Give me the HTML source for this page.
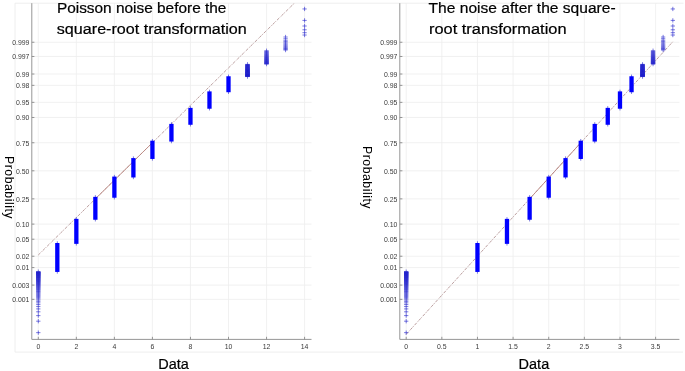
<!DOCTYPE html>
<html><head><meta charset="utf-8"><style>
html,body{margin:0;padding:0;background:#fff;width:685px;height:371px;overflow:hidden}
svg{display:block}
.ga{will-change:transform}
.ov{position:absolute;left:0;top:0}
</style></head><body>
<svg class="ga" width="685" height="371" viewBox="0 0 685 371" font-family="Liberation Sans, sans-serif">
<defs><clipPath id="cl"><rect x="31.8" y="3.2" width="279.7" height="336.2"/></clipPath>
<clipPath id="cr"><rect x="399.8" y="3.2" width="279.6" height="336.2"/></clipPath>
<filter id="bl" x="0" y="0" width="1" height="1"><feGaussianBlur stdDeviation="0.35"/></filter></defs>
<g filter="url(#bl)">
<rect x="0" y="0" width="685" height="371" fill="#fff"/>
<path d="M15 3.2H683.5M15 3.2V352.1H683" stroke="#ececec" stroke-width="0.9" fill="none"/>
<path d="M31.8 42.25H311.5M31.8 56.49H311.5M31.8 74.02H311.5M31.8 85.36H311.5M31.8 102.37H311.5M31.8 117.49H311.5M31.8 142.74H311.5M31.8 170.80H311.5M31.8 198.86H311.5M31.8 224.11H311.5M31.8 239.23H311.5M31.8 256.24H311.5M31.8 267.58H311.5M31.8 285.11H311.5M31.8 299.35H311.5M38.30 3.2V339.4M76.34 3.2V339.4M114.38 3.2V339.4M152.42 3.2V339.4M190.46 3.2V339.4M228.50 3.2V339.4M266.54 3.2V339.4M304.58 3.2V339.4" stroke="#eeeeee" stroke-width="0.8" fill="none"/><path d="M31.8 3.2V339.4H311.5M31.8 42.25h2.6M31.8 56.49h2.6M31.8 74.02h2.6M31.8 85.36h2.6M31.8 102.37h2.6M31.8 117.49h2.6M31.8 142.74h2.6M31.8 170.80h2.6M31.8 198.86h2.6M31.8 224.11h2.6M31.8 239.23h2.6M31.8 256.24h2.6M31.8 267.58h2.6M31.8 285.11h2.6M31.8 299.35h2.6M38.30 339.4v-2.6M76.34 339.4v-2.6M114.38 339.4v-2.6M152.42 339.4v-2.6M190.46 339.4v-2.6M228.50 339.4v-2.6M266.54 339.4v-2.6M304.58 339.4v-2.6" stroke="#8a8a8a" stroke-width="0.9" fill="none"/><g font-size="6.9" fill="#3a3a3a"><text x="29.4" y="45.05" text-anchor="end">0.999</text><text x="29.4" y="59.29" text-anchor="end">0.997</text><text x="29.4" y="76.82" text-anchor="end">0.99</text><text x="29.4" y="88.16" text-anchor="end">0.98</text><text x="29.4" y="105.17" text-anchor="end">0.95</text><text x="29.4" y="120.29" text-anchor="end">0.90</text><text x="29.4" y="145.54" text-anchor="end">0.75</text><text x="29.4" y="173.60" text-anchor="end">0.50</text><text x="29.4" y="201.66" text-anchor="end">0.25</text><text x="29.4" y="226.91" text-anchor="end">0.10</text><text x="29.4" y="242.03" text-anchor="end">0.05</text><text x="29.4" y="259.04" text-anchor="end">0.02</text><text x="29.4" y="270.38" text-anchor="end">0.01</text><text x="29.4" y="287.91" text-anchor="end">0.003</text><text x="29.4" y="302.15" text-anchor="end">0.001</text><text x="38.30" y="349.3" text-anchor="middle">0</text><text x="76.34" y="349.3" text-anchor="middle">2</text><text x="114.38" y="349.3" text-anchor="middle">4</text><text x="152.42" y="349.3" text-anchor="middle">6</text><text x="190.46" y="349.3" text-anchor="middle">8</text><text x="228.50" y="349.3" text-anchor="middle">10</text><text x="266.54" y="349.3" text-anchor="middle">12</text><text x="304.58" y="349.3" text-anchor="middle">14</text></g>
<path d="M399.8 42.25H679.4M399.8 56.49H679.4M399.8 74.02H679.4M399.8 85.36H679.4M399.8 102.37H679.4M399.8 117.49H679.4M399.8 142.74H679.4M399.8 170.80H679.4M399.8 198.86H679.4M399.8 224.11H679.4M399.8 239.23H679.4M399.8 256.24H679.4M399.8 267.58H679.4M399.8 285.11H679.4M399.8 299.35H679.4M406.20 3.2V339.4M441.83 3.2V339.4M477.46 3.2V339.4M513.09 3.2V339.4M548.72 3.2V339.4M584.35 3.2V339.4M619.98 3.2V339.4M655.61 3.2V339.4" stroke="#eeeeee" stroke-width="0.8" fill="none"/><path d="M399.8 3.2V339.4H679.4M399.8 42.25h2.6M399.8 56.49h2.6M399.8 74.02h2.6M399.8 85.36h2.6M399.8 102.37h2.6M399.8 117.49h2.6M399.8 142.74h2.6M399.8 170.80h2.6M399.8 198.86h2.6M399.8 224.11h2.6M399.8 239.23h2.6M399.8 256.24h2.6M399.8 267.58h2.6M399.8 285.11h2.6M399.8 299.35h2.6M406.20 339.4v-2.6M441.83 339.4v-2.6M477.46 339.4v-2.6M513.09 339.4v-2.6M548.72 339.4v-2.6M584.35 339.4v-2.6M619.98 339.4v-2.6M655.61 339.4v-2.6" stroke="#8a8a8a" stroke-width="0.9" fill="none"/><g font-size="6.9" fill="#3a3a3a"><text x="397.4" y="45.05" text-anchor="end">0.999</text><text x="397.4" y="59.29" text-anchor="end">0.997</text><text x="397.4" y="76.82" text-anchor="end">0.99</text><text x="397.4" y="88.16" text-anchor="end">0.98</text><text x="397.4" y="105.17" text-anchor="end">0.95</text><text x="397.4" y="120.29" text-anchor="end">0.90</text><text x="397.4" y="145.54" text-anchor="end">0.75</text><text x="397.4" y="173.60" text-anchor="end">0.50</text><text x="397.4" y="201.66" text-anchor="end">0.25</text><text x="397.4" y="226.91" text-anchor="end">0.10</text><text x="397.4" y="242.03" text-anchor="end">0.05</text><text x="397.4" y="259.04" text-anchor="end">0.02</text><text x="397.4" y="270.38" text-anchor="end">0.01</text><text x="397.4" y="287.91" text-anchor="end">0.003</text><text x="397.4" y="302.15" text-anchor="end">0.001</text><text x="406.20" y="349.3" text-anchor="middle">0</text><text x="441.83" y="349.3" text-anchor="middle">0.5</text><text x="477.46" y="349.3" text-anchor="middle">1</text><text x="513.09" y="349.3" text-anchor="middle">1.5</text><text x="548.72" y="349.3" text-anchor="middle">2</text><text x="584.35" y="349.3" text-anchor="middle">2.5</text><text x="619.98" y="349.3" text-anchor="middle">3</text><text x="655.61" y="349.3" text-anchor="middle">3.5</text></g>
<g clip-path="url(#cl)"><path d="M38.30 254.98L304.58 -6.91" stroke="#aa8686" stroke-width="0.8" stroke-dasharray="3 1.1 1 1.1" fill="none"/><path d="M95.36 198.86L152.42 142.74" stroke="#b88078" stroke-width="0.8" fill="none"/></g>
<g clip-path="url(#cr)"><path d="M406.20 334.34L672.83 41.67" stroke="#aa8686" stroke-width="0.8" stroke-dasharray="3 1.1 1 1.1" fill="none"/><path d="M529.63 198.86L580.75 142.74" stroke="#b88078" stroke-width="0.8" fill="none"/></g>
<path d="M38.30 269.54V317.75M38.30 319.05V323.35M38.30 330.50V334.80M57.32 241.31V273.64M76.34 217.17V245.56M95.36 195.15V221.45M114.38 174.88V199.44M133.40 156.38V179.17M152.42 138.98V160.67M171.44 122.19V143.27M190.46 106.17V126.47M209.48 89.69V110.44M228.50 74.55V93.93M247.52 62.20V78.72M266.54 48.59V66.22M285.56 34.87V52.20M304.58 6.80V11.10M304.58 18.25V22.55M304.58 23.85V37.18" stroke="#2222cc" stroke-width="0.6" fill="none"/><g fill="#0000ff"><rect x="55.17" y="243.01" width="4.30" height="28.93"/><rect x="74.19" y="218.87" width="4.30" height="24.99"/><rect x="93.21" y="196.85" width="4.30" height="22.90"/><rect x="112.23" y="176.58" width="4.30" height="21.16"/><rect x="131.25" y="158.08" width="4.30" height="19.39"/><rect x="150.27" y="140.68" width="4.30" height="18.29"/><rect x="169.29" y="123.89" width="4.30" height="17.67"/><rect x="188.31" y="107.87" width="4.30" height="16.91"/><rect x="207.33" y="91.39" width="4.30" height="17.34"/><rect x="226.35" y="76.25" width="4.30" height="15.98"/></g><path d="M36.15 271.69h4.30M36.15 271.89h4.30M36.15 272.09h4.30M36.15 272.29h4.30M36.15 272.50h4.30M36.15 272.70h4.30M36.15 272.92h4.30M36.15 273.13h4.30M36.15 273.35h4.30M36.15 273.56h4.30M36.15 273.79h4.30M36.15 274.01h4.30M36.15 274.24h4.30M36.15 274.47h4.30M36.15 274.70h4.30M36.15 274.94h4.30M36.15 275.18h4.30M36.15 275.43h4.30M36.15 275.68h4.30M36.15 275.93h4.30M36.15 276.18h4.30M36.15 276.44h4.30M36.15 276.71h4.30M36.15 276.98h4.30M36.15 277.25h4.30M36.15 277.53h4.30M36.15 277.81h4.30M36.15 278.10h4.30M36.15 278.39h4.30M36.15 278.69h4.30M36.15 278.99h4.30M36.15 279.30h4.30M36.15 279.62h4.30M36.15 279.94h4.30M36.15 280.27h4.30M36.15 280.61h4.30M36.15 280.95h4.30M36.15 281.30h4.30M36.15 281.66h4.30M36.15 282.03h4.30M36.15 282.41h4.30M36.15 282.79h4.30M36.15 283.19h4.30M36.15 283.59h4.30M36.15 284.01h4.30M36.15 284.44h4.30M36.15 284.88h4.30M36.15 285.34h4.30M36.15 285.81h4.30M36.15 286.29h4.30M36.15 286.79h4.30M36.15 287.31h4.30M36.15 287.84h4.30M36.15 288.40h4.30M36.15 288.98h4.30M36.15 289.58h4.30M36.15 290.21h4.30M36.15 290.86h4.30M36.15 291.55h4.30M36.15 292.27h4.30M36.15 293.03h4.30M36.15 293.84h4.30M36.15 294.69h4.30M36.15 295.60h4.30M36.15 296.57h4.30M36.15 297.62h4.30M36.15 298.75h4.30M36.15 299.99h4.30M36.15 301.35h4.30M36.15 302.87h4.30M36.15 304.58h4.30M36.15 306.57h4.30M36.15 308.91h4.30M36.15 311.81h4.30M36.15 315.60h4.30M36.15 321.20h4.30M36.15 332.65h4.30M245.37 64.35h4.30M245.37 64.62h4.30M245.37 64.89h4.30M245.37 65.16h4.30M245.37 65.42h4.30M245.37 65.67h4.30M245.37 65.92h4.30M245.37 66.17h4.30M245.37 66.42h4.30M245.37 66.66h4.30M245.37 66.90h4.30M245.37 67.13h4.30M245.37 67.36h4.30M245.37 67.59h4.30M245.37 67.81h4.30M245.37 68.04h4.30M245.37 68.25h4.30M245.37 68.47h4.30M245.37 68.68h4.30M245.37 68.90h4.30M245.37 69.10h4.30M245.37 69.31h4.30M245.37 69.51h4.30M245.37 69.71h4.30M245.37 69.91h4.30M245.37 70.11h4.30M245.37 70.30h4.30M245.37 70.49h4.30M245.37 70.68h4.30M245.37 70.87h4.30M245.37 71.06h4.30M245.37 71.24h4.30M245.37 71.42h4.30M245.37 71.60h4.30M245.37 71.78h4.30M245.37 71.96h4.30M245.37 72.13h4.30M245.37 72.30h4.30M245.37 72.48h4.30M245.37 72.65h4.30M245.37 72.81h4.30M245.37 72.98h4.30M245.37 73.14h4.30M245.37 73.31h4.30M245.37 73.47h4.30M245.37 73.63h4.30M245.37 73.79h4.30M245.37 73.95h4.30M245.37 74.10h4.30M245.37 74.26h4.30M245.37 74.41h4.30M245.37 74.56h4.30M245.37 74.71h4.30M245.37 74.86h4.30M245.37 75.01h4.30M245.37 75.16h4.30M245.37 75.30h4.30M245.37 75.45h4.30M245.37 75.59h4.30M245.37 75.73h4.30M245.37 75.88h4.30M245.37 76.02h4.30M245.37 76.16h4.30M245.37 76.29h4.30M245.37 76.43h4.30M245.37 76.57h4.30M264.39 50.74h4.30M264.39 51.39h4.30M264.39 52.02h4.30M264.39 52.62h4.30M264.39 53.20h4.30M264.39 53.76h4.30M264.39 54.29h4.30M264.39 54.81h4.30M264.39 55.31h4.30M264.39 55.79h4.30M264.39 56.26h4.30M264.39 56.72h4.30M264.39 57.16h4.30M264.39 57.59h4.30M264.39 58.01h4.30M264.39 58.41h4.30M264.39 58.81h4.30M264.39 59.19h4.30M264.39 59.57h4.30M264.39 59.94h4.30M264.39 60.30h4.30M264.39 60.65h4.30M264.39 60.99h4.30M264.39 61.33h4.30M264.39 61.66h4.30M264.39 61.98h4.30M264.39 62.30h4.30M264.39 62.61h4.30M264.39 62.91h4.30M264.39 63.21h4.30M264.39 63.50h4.30M264.39 63.79h4.30M264.39 64.07h4.30M283.41 37.02h4.30M283.41 38.73h4.30M283.41 40.25h4.30M283.41 41.61h4.30M283.41 42.85h4.30M283.41 43.98h4.30M283.41 45.03h4.30M283.41 46.00h4.30M283.41 46.91h4.30M283.41 47.76h4.30M283.41 48.57h4.30M283.41 49.33h4.30M283.41 50.05h4.30M302.43 8.95h4.30M302.43 20.40h4.30M302.43 26.00h4.30M302.43 29.79h4.30M302.43 32.69h4.30M302.43 35.03h4.30" stroke="#2222cc" stroke-width="0.6" fill="none"/>
<path d="M406.20 269.54V317.75M406.20 319.05V323.35M406.20 330.50V334.80M477.46 241.31V273.64M506.98 217.17V245.56M529.63 195.15V221.45M548.72 174.88V199.44M565.54 156.38V179.17M580.75 138.98V160.67M594.74 122.19V143.27M607.75 106.17V126.47M619.98 89.69V110.44M631.54 74.55V93.93M642.54 62.20V78.72M653.05 48.59V66.22M663.13 34.87V52.20M672.83 6.80V11.10M672.83 18.25V22.55M672.83 23.85V37.18" stroke="#2222cc" stroke-width="0.6" fill="none"/><g fill="#0000ff"><rect x="475.31" y="243.01" width="4.30" height="28.93"/><rect x="504.83" y="218.87" width="4.30" height="24.99"/><rect x="527.48" y="196.85" width="4.30" height="22.90"/><rect x="546.57" y="176.58" width="4.30" height="21.16"/><rect x="563.39" y="158.08" width="4.30" height="19.39"/><rect x="578.60" y="140.68" width="4.30" height="18.29"/><rect x="592.59" y="123.89" width="4.30" height="17.67"/><rect x="605.60" y="107.87" width="4.30" height="16.91"/><rect x="617.83" y="91.39" width="4.30" height="17.34"/><rect x="629.39" y="76.25" width="4.30" height="15.98"/></g><path d="M404.05 271.69h4.30M404.05 271.89h4.30M404.05 272.09h4.30M404.05 272.29h4.30M404.05 272.50h4.30M404.05 272.70h4.30M404.05 272.92h4.30M404.05 273.13h4.30M404.05 273.35h4.30M404.05 273.56h4.30M404.05 273.79h4.30M404.05 274.01h4.30M404.05 274.24h4.30M404.05 274.47h4.30M404.05 274.70h4.30M404.05 274.94h4.30M404.05 275.18h4.30M404.05 275.43h4.30M404.05 275.68h4.30M404.05 275.93h4.30M404.05 276.18h4.30M404.05 276.44h4.30M404.05 276.71h4.30M404.05 276.98h4.30M404.05 277.25h4.30M404.05 277.53h4.30M404.05 277.81h4.30M404.05 278.10h4.30M404.05 278.39h4.30M404.05 278.69h4.30M404.05 278.99h4.30M404.05 279.30h4.30M404.05 279.62h4.30M404.05 279.94h4.30M404.05 280.27h4.30M404.05 280.61h4.30M404.05 280.95h4.30M404.05 281.30h4.30M404.05 281.66h4.30M404.05 282.03h4.30M404.05 282.41h4.30M404.05 282.79h4.30M404.05 283.19h4.30M404.05 283.59h4.30M404.05 284.01h4.30M404.05 284.44h4.30M404.05 284.88h4.30M404.05 285.34h4.30M404.05 285.81h4.30M404.05 286.29h4.30M404.05 286.79h4.30M404.05 287.31h4.30M404.05 287.84h4.30M404.05 288.40h4.30M404.05 288.98h4.30M404.05 289.58h4.30M404.05 290.21h4.30M404.05 290.86h4.30M404.05 291.55h4.30M404.05 292.27h4.30M404.05 293.03h4.30M404.05 293.84h4.30M404.05 294.69h4.30M404.05 295.60h4.30M404.05 296.57h4.30M404.05 297.62h4.30M404.05 298.75h4.30M404.05 299.99h4.30M404.05 301.35h4.30M404.05 302.87h4.30M404.05 304.58h4.30M404.05 306.57h4.30M404.05 308.91h4.30M404.05 311.81h4.30M404.05 315.60h4.30M404.05 321.20h4.30M404.05 332.65h4.30M640.39 64.35h4.30M640.39 64.62h4.30M640.39 64.89h4.30M640.39 65.16h4.30M640.39 65.42h4.30M640.39 65.67h4.30M640.39 65.92h4.30M640.39 66.17h4.30M640.39 66.42h4.30M640.39 66.66h4.30M640.39 66.90h4.30M640.39 67.13h4.30M640.39 67.36h4.30M640.39 67.59h4.30M640.39 67.81h4.30M640.39 68.04h4.30M640.39 68.25h4.30M640.39 68.47h4.30M640.39 68.68h4.30M640.39 68.90h4.30M640.39 69.10h4.30M640.39 69.31h4.30M640.39 69.51h4.30M640.39 69.71h4.30M640.39 69.91h4.30M640.39 70.11h4.30M640.39 70.30h4.30M640.39 70.49h4.30M640.39 70.68h4.30M640.39 70.87h4.30M640.39 71.06h4.30M640.39 71.24h4.30M640.39 71.42h4.30M640.39 71.60h4.30M640.39 71.78h4.30M640.39 71.96h4.30M640.39 72.13h4.30M640.39 72.30h4.30M640.39 72.48h4.30M640.39 72.65h4.30M640.39 72.81h4.30M640.39 72.98h4.30M640.39 73.14h4.30M640.39 73.31h4.30M640.39 73.47h4.30M640.39 73.63h4.30M640.39 73.79h4.30M640.39 73.95h4.30M640.39 74.10h4.30M640.39 74.26h4.30M640.39 74.41h4.30M640.39 74.56h4.30M640.39 74.71h4.30M640.39 74.86h4.30M640.39 75.01h4.30M640.39 75.16h4.30M640.39 75.30h4.30M640.39 75.45h4.30M640.39 75.59h4.30M640.39 75.73h4.30M640.39 75.88h4.30M640.39 76.02h4.30M640.39 76.16h4.30M640.39 76.29h4.30M640.39 76.43h4.30M640.39 76.57h4.30M650.90 50.74h4.30M650.90 51.39h4.30M650.90 52.02h4.30M650.90 52.62h4.30M650.90 53.20h4.30M650.90 53.76h4.30M650.90 54.29h4.30M650.90 54.81h4.30M650.90 55.31h4.30M650.90 55.79h4.30M650.90 56.26h4.30M650.90 56.72h4.30M650.90 57.16h4.30M650.90 57.59h4.30M650.90 58.01h4.30M650.90 58.41h4.30M650.90 58.81h4.30M650.90 59.19h4.30M650.90 59.57h4.30M650.90 59.94h4.30M650.90 60.30h4.30M650.90 60.65h4.30M650.90 60.99h4.30M650.90 61.33h4.30M650.90 61.66h4.30M650.90 61.98h4.30M650.90 62.30h4.30M650.90 62.61h4.30M650.90 62.91h4.30M650.90 63.21h4.30M650.90 63.50h4.30M650.90 63.79h4.30M650.90 64.07h4.30M660.98 37.02h4.30M660.98 38.73h4.30M660.98 40.25h4.30M660.98 41.61h4.30M660.98 42.85h4.30M660.98 43.98h4.30M660.98 45.03h4.30M660.98 46.00h4.30M660.98 46.91h4.30M660.98 47.76h4.30M660.98 48.57h4.30M660.98 49.33h4.30M660.98 50.05h4.30M670.68 8.95h4.30M670.68 20.40h4.30M670.68 26.00h4.30M670.68 29.79h4.30M670.68 32.69h4.30M670.68 35.03h4.30" stroke="#2222cc" stroke-width="0.6" fill="none"/>
</g>
</svg>
<svg class="ov" width="685" height="371" viewBox="0 0 685 371" font-family="Liberation Sans, sans-serif">
<g font-size="15.4" fill="#000" stroke="#000" stroke-width="0.22">
<text x="56.9" y="13.3" textLength="169.5" lengthAdjust="spacingAndGlyphs">Poisson noise before the</text>
<text x="56.8" y="33.5" textLength="190.0" lengthAdjust="spacingAndGlyphs">square-root transformation</text>
<text x="428.6" y="13.3" textLength="187.0" lengthAdjust="spacingAndGlyphs">The noise after the square-</text>
<text x="429.0" y="33.5" textLength="137.5" lengthAdjust="spacingAndGlyphs">root transformation</text>
</g>
<g font-size="12.3" fill="#000">
<text transform="translate(4.7 156.0) rotate(90)" textLength="62.5" lengthAdjust="spacing">Probability</text>
<text transform="translate(363.4 146.0) rotate(90)" textLength="62.5" lengthAdjust="spacing">Probability</text>
</g>
<g font-size="15.2" fill="#000" stroke="#000" stroke-width="0.22">
<text x="158.2" y="368.6" textLength="30.6" lengthAdjust="spacingAndGlyphs">Data</text>
<text x="518.6" y="368.6" textLength="30.6" lengthAdjust="spacingAndGlyphs">Data</text>
</g>
</svg>
</body></html>
